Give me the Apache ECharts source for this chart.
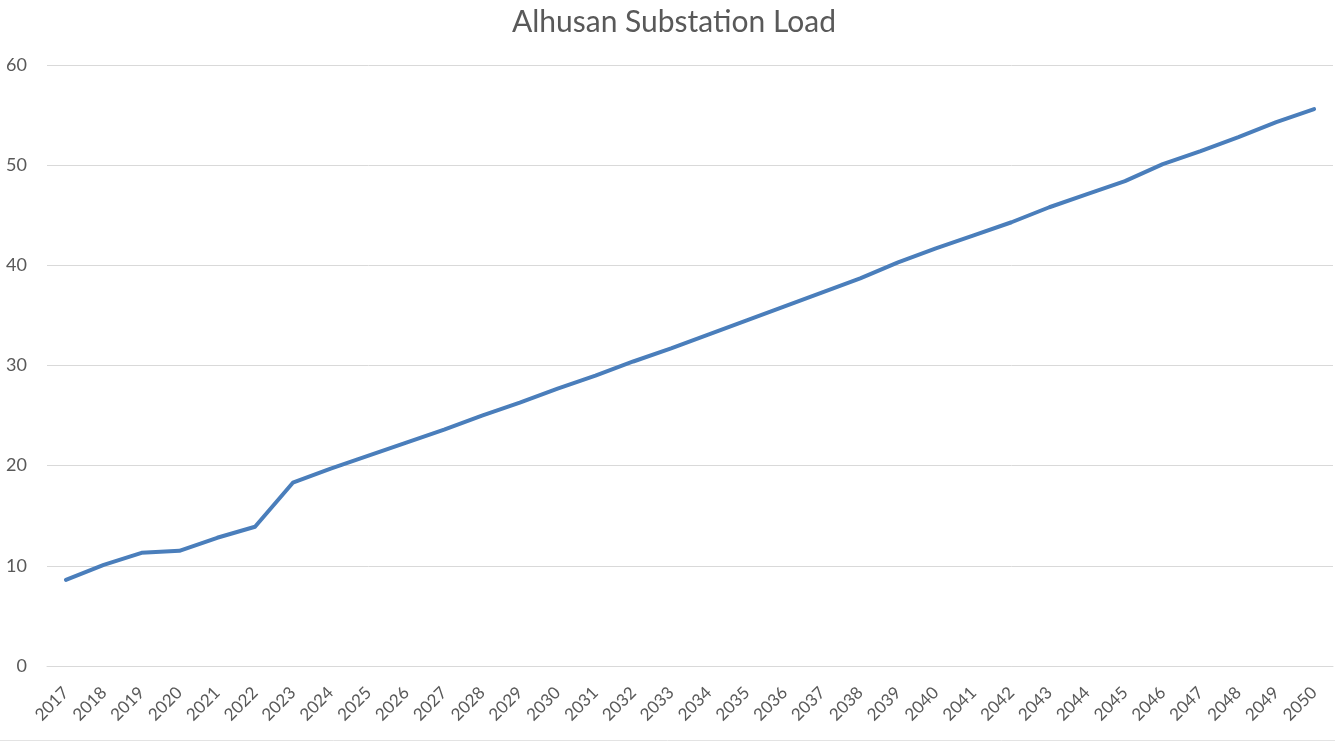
<!DOCTYPE html>
<html>
<head>
<meta charset="utf-8">
<title>Alhusan Substation Load</title>
<script src="https://cdn.jsdelivr.net/npm/echarts@6/dist/echarts.min.js"></script>
<style>
  html, body { margin: 0; padding: 0; background: #ffffff; }
  #chart { width: 1335px; height: 742px; }
</style>
</head>
<body>
<div id="chart"></div>
<script>
// Years on the category axis
const years = [
  '2017','2018','2019','2020','2021','2022','2023','2024','2025','2026',
  '2027','2028','2029','2030','2031','2032','2033','2034','2035','2036',
  '2037','2038','2039','2040','2041','2042','2043','2044','2045','2046',
  '2047','2048','2049','2050'
];

// Substation load per year
const loadValues = [
  8.6, 10.1, 11.3, 11.5, 12.8, 13.9, 18.3, 19.7, 21.0, 22.3,
  23.6, 25.0, 26.3, 27.7, 29.0, 30.4, 31.7, 33.1, 34.5, 35.9,
  37.3, 38.7, 40.3, 41.7, 43.0, 44.3, 45.8, 47.1, 48.4, 50.1,
  51.4, 52.8, 54.3, 55.6
];

// Value axis ticks
const yTicks = [0, 10, 20, 30, 40, 50, 60];

const FONT = 'Lato, "Open Sans", sans-serif';
const TEXT_COLOR = '#595959';
const GRID_COLOR = '#d9d9d9';

const chart = echarts.init(document.getElementById('chart'), null, { renderer: 'canvas' });

chart.setOption({
  backgroundColor: '#ffffff',
  animation: false,
  title: {
    text: 'Alhusan Substation Load',
    left: 507,
    top: 2,
    textStyle: {
      fontFamily: FONT,
      fontSize: 30,
      fontWeight: 'normal',
      color: TEXT_COLOR
    }
  },
  grid: {
    left: 47,
    right: 2,
    top: 65,
    bottom: 76,
    containLabel: false
  },
  // thin frame line along the bottom edge of the chart area
  graphic: [{
    type: 'line',
    shape: { x1: 0, y1: 740.5, x2: 1335, y2: 740.5 },
    style: { stroke: '#e3e3e3', lineWidth: 1 },
    silent: true
  }],
  xAxis: {
    type: 'category',
    data: years,
    boundaryGap: true,
    axisLine: { show: true, lineStyle: { color: GRID_COLOR, width: 1 } },
    axisTick: { show: false },
    axisLabel: {
      interval: 0,
      rotate: 45,
      margin: 24,
      fontFamily: FONT,
      fontSize: 17,
      color: TEXT_COLOR
    }
  },
  yAxis: {
    type: 'value',
    min: yTicks[0],
    max: yTicks[yTicks.length - 1],
    interval: yTicks[1] - yTicks[0],
    axisLine: { show: false },
    axisTick: { show: false },
    axisLabel: {
      margin: 20,
      fontFamily: FONT,
      fontSize: 18,
      color: TEXT_COLOR
    },
    splitLine: { show: true, lineStyle: { color: GRID_COLOR, width: 1 } }
  },
  series: [{
    name: 'Load',
    type: 'line',
    data: loadValues,
    showSymbol: false,
    symbol: 'none',
    lineStyle: { color: '#4a7ebb', width: 4, cap: 'round', join: 'round' },
    itemStyle: { color: '#4a7ebb' }
  }]
});
</script>
</body>
</html>
